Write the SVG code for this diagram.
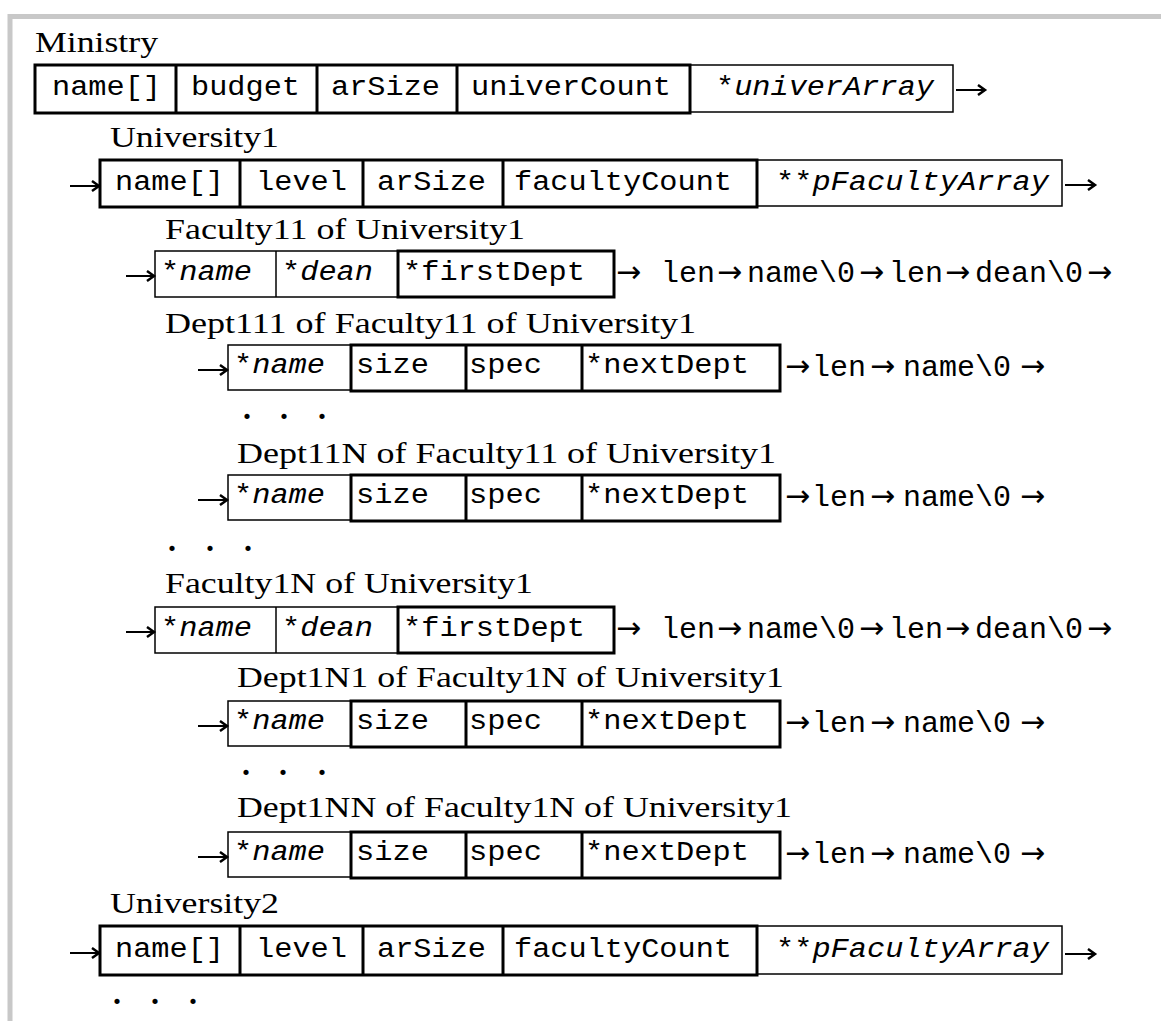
<svg xmlns="http://www.w3.org/2000/svg" width="1161" height="1021" viewBox="0 0 1161 1021">
<defs>
<style>
.lbl{font-family:"Liberation Serif","Times New Roman",serif;font-size:29px;fill:#000}
.m{font-family:"Liberation Mono","Courier New",monospace;font-size:27px;fill:#000}
.t{font-family:"Liberation Mono","Courier New",monospace;font-size:30px;fill:#000}
.a{font-family:"DejaVu Sans",sans-serif;font-size:30px}
.i{font-style:italic}
.thick{fill:none;stroke:#000;stroke-width:3}
.thin{fill:none;stroke:#000;stroke-width:1.5}
.dots{font-family:"Liberation Serif","Times New Roman",serif;font-size:32px;font-weight:bold;fill:#000}
.conn{fill:none;stroke:#000;stroke-width:2}
.head{fill:none;stroke:#000;stroke-width:2.5;stroke-linejoin:miter}
</style>
<marker id="ah" markerWidth="12" markerHeight="12" refX="9" refY="6" orient="auto" markerUnits="userSpaceOnUse">
<path d="M2,1 L9,6 L2,11" class="head"/>
</marker>
</defs>
<rect width="1161" height="1021" fill="#fff"/>
<path d="M10,1021 V16.5 H1161" fill="none" stroke="#c8c8c8" stroke-width="5"/>

<g id="ministry">
<text class="lbl" x="35" y="52" textLength="123" lengthAdjust="spacingAndGlyphs">Ministry</text>
<rect class="thin" x="690" y="65" width="263" height="47"/>
<rect class="thick" x="35" y="65" width="655" height="48"/>
<path class="thick" d="M176,65V113M317,65V113M457,65V113"/>
<text class="m" x="52" y="95" textLength="109" lengthAdjust="spacingAndGlyphs">name[]</text>
<text class="m" x="191" y="95" textLength="109" lengthAdjust="spacingAndGlyphs">budget</text>
<text class="m" x="331" y="95" textLength="109" lengthAdjust="spacingAndGlyphs">arSize</text>
<text class="m" x="471" y="95" textLength="200" lengthAdjust="spacingAndGlyphs">univerCount</text>
<text class="m" x="716" y="95" textLength="218" lengthAdjust="spacingAndGlyphs">*<tspan class="i">univerArray</tspan></text>
</g>

<g id="university1">
<text class="lbl" x="110" y="147" textLength="169" lengthAdjust="spacingAndGlyphs">University1</text>
<rect class="thin" x="757" y="160" width="305" height="46"/>
<rect class="thick" x="100" y="160" width="657" height="47"/>
<path class="thick" d="M240,160V207M363,160V207M503,160V207"/>
<text class="m" x="115" y="190" textLength="109" lengthAdjust="spacingAndGlyphs">name[]</text>
<text class="m" x="256" y="190" textLength="91" lengthAdjust="spacingAndGlyphs">level</text>
<text class="m" x="377" y="190" textLength="109" lengthAdjust="spacingAndGlyphs">arSize</text>
<text class="m" x="514" y="190" textLength="218" lengthAdjust="spacingAndGlyphs">facultyCount</text>
<text class="m" x="776" y="190" textLength="273" lengthAdjust="spacingAndGlyphs">**<tspan class="i">pFacultyArray</tspan></text>
</g>

<g id="faculty11">
<text class="lbl" x="165" y="239" textLength="360" lengthAdjust="spacingAndGlyphs">Faculty11 of University1</text>
<rect class="thin" x="155" y="251" width="243" height="46"/>
<path class="thin" d="M276,251V297"/>
<rect class="thick" x="398" y="251" width="216" height="46"/>
<text class="m" x="161" y="280" textLength="91" lengthAdjust="spacingAndGlyphs">*<tspan class="i">name</tspan></text>
<text class="m" x="282" y="280" textLength="91" lengthAdjust="spacingAndGlyphs">*<tspan class="i">dean</tspan></text>
<text class="m" x="403" y="280" textLength="182" lengthAdjust="spacingAndGlyphs">*firstDept</text>
<text class="t" y="282"><tspan class="a" x="616">→</tspan><tspan x="661">len</tspan><tspan class="a" x="717">→</tspan><tspan x="747">name\0</tspan><tspan class="a" x="859">→</tspan><tspan x="889">len</tspan><tspan class="a" x="945">→</tspan><tspan x="975">dean\0</tspan><tspan class="a" x="1087">→</tspan></text>
</g>

<g id="dept111">
<text class="lbl" x="165" y="333" textLength="531" lengthAdjust="spacingAndGlyphs">Dept111 of Faculty11 of University1</text>
<rect class="thin" x="228" y="345" width="123" height="45"/>
<rect class="thick" x="351" y="345" width="429" height="46"/>
<path class="thick" d="M466,345V391M582,345V391"/>
<text class="m" x="234" y="373" textLength="91" lengthAdjust="spacingAndGlyphs">*<tspan class="i">name</tspan></text>
<text class="m" x="356" y="373" textLength="73" lengthAdjust="spacingAndGlyphs">size</text>
<text class="m" x="469" y="373" textLength="73" lengthAdjust="spacingAndGlyphs">spec</text>
<text class="m" x="585" y="373" textLength="164" lengthAdjust="spacingAndGlyphs">*nextDept</text>
<text class="t" y="376"><tspan class="a" x="785">→</tspan><tspan x="812">len</tspan><tspan class="a" x="870">→</tspan><tspan x="903">name\0</tspan><tspan class="a" x="1020">→</tspan></text>
</g>

<text class="dots" x="243 262 280 299 318" y="419">. . .</text>

<g id="dept11N">
<text class="lbl" x="237" y="463" textLength="539" lengthAdjust="spacingAndGlyphs">Dept11N of Faculty11 of University1</text>
<rect class="thin" x="228" y="475" width="123" height="45"/>
<rect class="thick" x="351" y="475" width="429" height="46"/>
<path class="thick" d="M466,475V521M582,475V521"/>
<text class="m" x="234" y="503" textLength="91" lengthAdjust="spacingAndGlyphs">*<tspan class="i">name</tspan></text>
<text class="m" x="356" y="503" textLength="73" lengthAdjust="spacingAndGlyphs">size</text>
<text class="m" x="469" y="503" textLength="73" lengthAdjust="spacingAndGlyphs">spec</text>
<text class="m" x="585" y="503" textLength="164" lengthAdjust="spacingAndGlyphs">*nextDept</text>
<text class="t" y="506"><tspan class="a" x="785">→</tspan><tspan x="812">len</tspan><tspan class="a" x="870">→</tspan><tspan x="903">name\0</tspan><tspan class="a" x="1020">→</tspan></text>
</g>

<text class="dots" x="168 187 206 225 244" y="551">. . .</text>

<g id="faculty1N">
<text class="lbl" x="165" y="593" textLength="368" lengthAdjust="spacingAndGlyphs">Faculty1N of University1</text>
<rect class="thin" x="155" y="607" width="243" height="46"/>
<path class="thin" d="M276,607V653"/>
<rect class="thick" x="398" y="607" width="216" height="46"/>
<text class="m" x="161" y="636" textLength="91" lengthAdjust="spacingAndGlyphs">*<tspan class="i">name</tspan></text>
<text class="m" x="282" y="636" textLength="91" lengthAdjust="spacingAndGlyphs">*<tspan class="i">dean</tspan></text>
<text class="m" x="403" y="636" textLength="182" lengthAdjust="spacingAndGlyphs">*firstDept</text>
<text class="t" y="638"><tspan class="a" x="616">→</tspan><tspan x="661">len</tspan><tspan class="a" x="717">→</tspan><tspan x="747">name\0</tspan><tspan class="a" x="859">→</tspan><tspan x="889">len</tspan><tspan class="a" x="945">→</tspan><tspan x="975">dean\0</tspan><tspan class="a" x="1087">→</tspan></text>
</g>

<g id="dept1N1">
<text class="lbl" x="237" y="687" textLength="547" lengthAdjust="spacingAndGlyphs">Dept1N1 of Faculty1N of University1</text>
<rect class="thin" x="228" y="701" width="123" height="45"/>
<rect class="thick" x="351" y="701" width="429" height="46"/>
<path class="thick" d="M466,701V747M582,701V747"/>
<text class="m" x="234" y="729" textLength="91" lengthAdjust="spacingAndGlyphs">*<tspan class="i">name</tspan></text>
<text class="m" x="356" y="729" textLength="73" lengthAdjust="spacingAndGlyphs">size</text>
<text class="m" x="469" y="729" textLength="73" lengthAdjust="spacingAndGlyphs">spec</text>
<text class="m" x="585" y="729" textLength="164" lengthAdjust="spacingAndGlyphs">*nextDept</text>
<text class="t" y="732"><tspan class="a" x="785">→</tspan><tspan x="812">len</tspan><tspan class="a" x="870">→</tspan><tspan x="903">name\0</tspan><tspan class="a" x="1020">→</tspan></text>
</g>

<text class="dots" x="242 261 279 298 318" y="775">. . .</text>

<g id="dept1NN">
<text class="lbl" x="237" y="817" textLength="555" lengthAdjust="spacingAndGlyphs">Dept1NN of Faculty1N of University1</text>
<rect class="thin" x="228" y="832" width="123" height="45"/>
<rect class="thick" x="351" y="832" width="429" height="46"/>
<path class="thick" d="M466,832V878M582,832V878"/>
<text class="m" x="234" y="860" textLength="91" lengthAdjust="spacingAndGlyphs">*<tspan class="i">name</tspan></text>
<text class="m" x="356" y="860" textLength="73" lengthAdjust="spacingAndGlyphs">size</text>
<text class="m" x="469" y="860" textLength="73" lengthAdjust="spacingAndGlyphs">spec</text>
<text class="m" x="585" y="860" textLength="164" lengthAdjust="spacingAndGlyphs">*nextDept</text>
<text class="t" y="863"><tspan class="a" x="785">→</tspan><tspan x="812">len</tspan><tspan class="a" x="870">→</tspan><tspan x="903">name\0</tspan><tspan class="a" x="1020">→</tspan></text>
</g>

<g id="university2">
<text class="lbl" x="110" y="913" textLength="169" lengthAdjust="spacingAndGlyphs">University2</text>
<rect class="thin" x="757" y="926" width="305" height="48"/>
<rect class="thick" x="100" y="926" width="657" height="49"/>
<path class="thick" d="M240,926V975M363,926V975M503,926V975"/>
<text class="m" x="115" y="957" textLength="109" lengthAdjust="spacingAndGlyphs">name[]</text>
<text class="m" x="256" y="957" textLength="91" lengthAdjust="spacingAndGlyphs">level</text>
<text class="m" x="377" y="957" textLength="109" lengthAdjust="spacingAndGlyphs">arSize</text>
<text class="m" x="514" y="957" textLength="218" lengthAdjust="spacingAndGlyphs">facultyCount</text>
<text class="m" x="776" y="957" textLength="273" lengthAdjust="spacingAndGlyphs">**<tspan class="i">pFacultyArray</tspan></text>
</g>

<text class="dots" x="113 132 151 170 189" y="1004">. . .</text>

<g id="connectors">
<path class="conn" d="M956,90H985" marker-end="url(#ah)"/>
<path class="conn" d="M70,186H99" marker-end="url(#ah)"/>
<path class="conn" d="M1065,185H1095" marker-end="url(#ah)"/>
<path class="conn" d="M126,276H154" marker-end="url(#ah)"/>
<path class="conn" d="M198,370H227" marker-end="url(#ah)"/>
<path class="conn" d="M198,500H227" marker-end="url(#ah)"/>
<path class="conn" d="M126,632H154" marker-end="url(#ah)"/>
<path class="conn" d="M198,726H227" marker-end="url(#ah)"/>
<path class="conn" d="M198,857H227" marker-end="url(#ah)"/>
<path class="conn" d="M70,953H99" marker-end="url(#ah)"/>
<path class="conn" d="M1065,954H1095" marker-end="url(#ah)"/>
</g>
</svg>
